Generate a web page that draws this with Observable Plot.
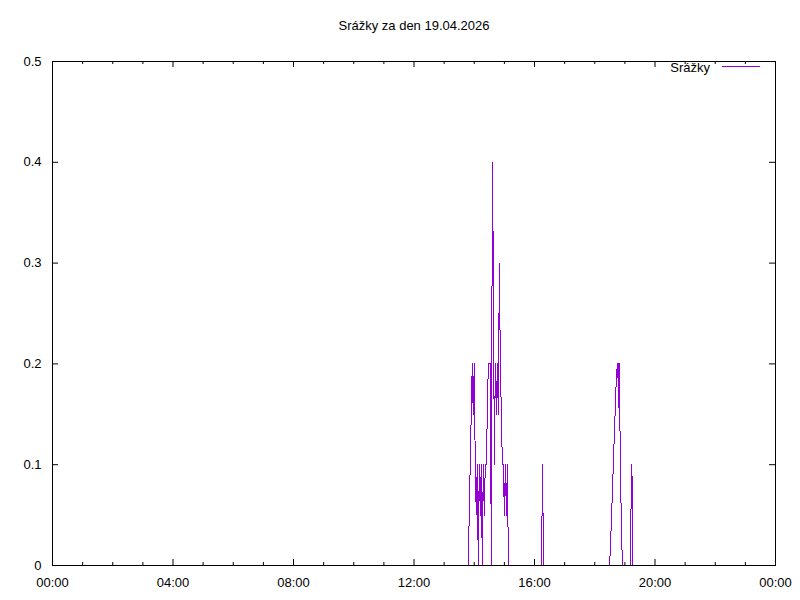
<!DOCTYPE html>
<html><head><meta charset="utf-8">
<script src="https://cdn.jsdelivr.net/npm/d3@7"></script>
<script src="https://cdn.jsdelivr.net/npm/@observablehq/plot@0.6"></script>
<style>html,body{margin:0;padding:0;background:#fff}</style>
</head><body><div id="chart"></div>
<script>
const titleText = "Srážky za den 19.04.2026";
const seriesName = "Srážky";

const times = [
  "00:00",
  "13:46","13:48","13:50","13:52","13:54","13:56","13:58","14:00","14:02","14:04",
  "14:06","14:08","14:10","14:12","14:14","14:16","14:18","14:20","14:22","14:24",
  "14:26","14:28","14:30","14:32","14:34","14:36","14:38","14:40","14:42","14:44",
  "14:46","14:48","14:50","14:52","14:54","14:56","14:58","15:00","15:02","15:04",
  "15:06","15:08",
  "16:14","16:15","16:16","16:17","16:18",
  "18:29","18:31","18:33","18:35","18:37","18:39","18:41","18:43","18:45","18:46",
  "18:47","18:48","18:49","18:51","18:53","18:55",
  "19:11","19:12","19:14","19:15","19:16",
  "23:59"
];
const values = [
  0,
  0, 0, 0.05, 0.1, 0.15, 0.2, 0.15, 0.2, 0.1, 0.05,
  0.1, 0, 0.1, 0.05, 0.1, 0, 0.1, 0.05, 0.1, 0.1,
  0.15, 0.2, 0.2, 0.2, 0, 0.4, 0.3, 0.1, 0.2, 0.15,
  0.2, 0.15, 0.3, 0.2, 0.15, 0.1, 0.1, 0.05, 0.1, 0.05,
  0.1, 0,
  0, 0.05, 0.1, 0.05, 0,
  0, 0.014, 0.043, 0.071, 0.1, 0.129, 0.157, 0.186, 0.2, 0.186,
  0.2, 0.157, 0.2, 0.1, 0.043, 0,
  0, 0.05, 0.1, 0.05, 0,
  0
];

const xMajorHours = [0, 4, 8, 12, 16, 20, 24];
const xMinorHours = [1, 2, 3, 5, 6, 7, 9, 10, 11, 13, 14, 15, 17, 18, 19, 21, 22, 23];
const yTicks = [0, 0.1, 0.2, 0.3, 0.4, 0.5];
const yTickLabels = ["0", "0.1", "0.2", "0.3", "0.4", "0.5"];

const toDate = s => { const [h, m] = s.split(":").map(Number); return new Date(Date.UTC(2026, 3, 19, h, m)); };
const hourDate = h => new Date(Date.UTC(2026, 3, 19, h, 0));
const data = times.map((t, i) => ({t: toDate(t), v: values[i]}));

const W = 800, H = 600, mL = 52, mR = 25, mT = 61, mB = 35;
const pw = W - mL - mR, ph = H - mT - mB;
const color = "#9400d3";
const font = "'Liberation Sans', Arial, sans-serif";

const legendMark = () => {
  const g = d3.create("svg:g").attr("font-family", font).attr("font-size", 13);
  const xr = W - mR;
  g.append("text").attr("x", xr - 65).attr("y", 67).attr("dy", "0.35em")
    .attr("text-anchor", "end").attr("fill", "#000").text(seriesName);
  g.append("line").attr("x1", xr - 53).attr("x2", xr - 15).attr("y1", 66.5).attr("y2", 66.5)
    .attr("stroke", color).attr("stroke-width", 1).attr("shape-rendering", "crispEdges");
  return g.node();
};

const plot = Plot.plot({
  width: W, height: H,
  marginLeft: mL, marginRight: mR, marginTop: mT, marginBottom: mB,
  style: {fontFamily: font, fontSize: "13px", color: "#000", background: "#fff", overflow: "visible"},
  x: {type: "utc", domain: [hourDate(0), hourDate(24)], ticks: xMajorHours.map(hourDate),
      tickFormat: d3.utcFormat("%H:%M"), tickSize: 0, tickPadding: 12, label: null},
  y: {domain: [0, 0.5], ticks: yTicks, tickFormat: d => yTickLabels[yTicks.indexOf(d)],
      tickSize: 0, tickPadding: 11, label: null},
  marks: [
    Plot.line(data, {x: "t", y: "v", stroke: color, strokeWidth: 1, shapeRendering: "crispEdges"}),
    Plot.tickX(xMajorHours.map(hourDate), {x: d => d, insetTop: ph - 6, stroke: "#000"}),
    Plot.tickX(xMajorHours.map(hourDate), {x: d => d, insetBottom: ph - 6, stroke: "#000"}),
    Plot.tickX(xMinorHours.map(hourDate), {x: d => d, insetTop: ph - 3, stroke: "#000"}),
    Plot.tickX(xMinorHours.map(hourDate), {x: d => d, insetBottom: ph - 3, stroke: "#000"}),
    Plot.tickY(yTicks, {y: d => d, insetRight: pw - 6, stroke: "#000"}),
    Plot.tickY(yTicks, {y: d => d, insetLeft: pw - 6, stroke: "#000"}),
    Plot.frame({stroke: "#000"}),
    Plot.text([titleText], {text: d => d, frameAnchor: "top", lineAnchor: "middle", dy: -36, fill: "#000"}),
    legendMark
  ]
});
document.getElementById("chart").appendChild(plot);
</script>
</body></html>
